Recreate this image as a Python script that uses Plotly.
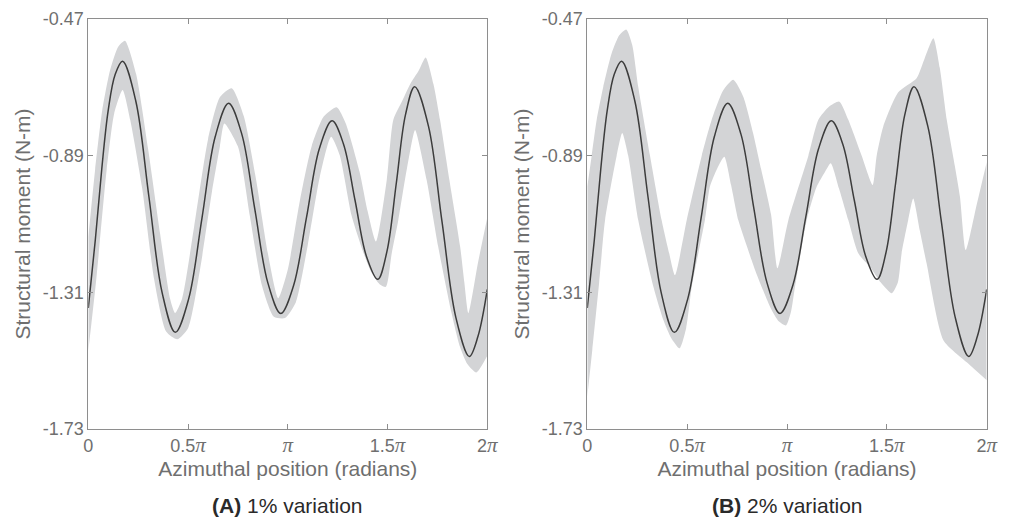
import numpy as np
import plotly.graph_objects as go
from plotly.subplots import make_subplots

# azimuthal position in units of pi, structural moment in N-m
mean_x = [0, 0.035, 0.067, 0.10, 0.135, 0.172, 0.238, 0.304, 0.370, 0.436, 0.503, 0.570,
          0.636, 0.703, 0.769, 0.834, 0.900, 0.965, 1.029, 1.094, 1.158, 1.222, 1.279,
          1.337, 1.394, 1.451, 1.497, 1.544, 1.590, 1.636, 1.705, 1.773, 1.842, 1.910,
          1.953, 2.0]
mean_y = [-1.358, -1.15, -0.934, -0.75, -0.64, -0.600, -0.722, -1.017, -1.311, -1.433,
          -1.330, -1.081, -0.832, -0.729, -0.823, -1.052, -1.281, -1.375, -1.289, -1.079,
          -0.869, -0.783, -0.854, -1.027, -1.199, -1.270, -1.184, -0.974, -0.764, -0.678,
          -0.799, -1.093, -1.386, -1.507, -1.446, -1.301]

# (A) 1% variation band
upper_a_x = [0, 0.034, 0.07, 0.11, 0.15, 0.184, 0.24, 0.30, 0.36, 0.41, 0.435, 0.47, 0.53,
             0.60, 0.66, 0.719, 0.78, 0.84, 0.90, 0.952, 1.00, 1.06, 1.12, 1.18, 1.245, 1.29,
             1.36, 1.40, 1.442, 1.496, 1.529, 1.575, 1.615, 1.655, 1.691, 1.73, 1.763, 1.81,
             1.864, 1.885, 1.905, 1.953, 2.0]
upper_a_y = [-1.14, -0.934, -0.75, -0.625, -0.555, -0.537, -0.64, -0.87, -1.13, -1.33,
             -1.374, -1.33, -1.11, -0.84, -0.71, -0.683, -0.77, -0.96, -1.19, -1.328, -1.24,
             -1.03, -0.86, -0.77, -0.741, -0.79, -0.94, -1.06, -1.154, -0.965, -0.78, -0.72,
             -0.668, -0.63, -0.588, -0.67, -0.78, -0.965, -1.17, -1.28, -1.374, -1.22, -1.08]
lower_a_x = [0, 0.04, 0.092, 0.13, 0.172, 0.21, 0.27, 0.33, 0.39, 0.446, 0.50, 0.56, 0.62,
             0.66, 0.682, 0.75, 0.81, 0.87, 0.93, 0.986, 1.04, 1.10, 1.16, 1.217, 1.26, 1.32,
             1.38, 1.42, 1.46, 1.492, 1.521, 1.554, 1.587, 1.615, 1.638, 1.696, 1.754, 1.821,
             1.863, 1.90, 1.945, 2.0]
lower_a_y = [-1.49, -1.27, -0.934, -0.76, -0.688, -0.78, -0.99, -1.27, -1.43, -1.454,
             -1.42, -1.24, -1.00, -0.86, -0.791, -0.862, -1.076, -1.288, -1.385, -1.389,
             -1.341, -1.165, -0.956, -0.832, -0.888, -1.075, -1.19, -1.25, -1.285, -1.293,
             -1.19, -1.088, -0.965, -0.87, -0.811, -0.965, -1.17, -1.374, -1.477, -1.53,
             -1.556, -1.505]

# (B) 2% variation band
upper_b_x = [0, 0.022, 0.047, 0.080, 0.122, 0.16, 0.195, 0.225, 0.255, 0.314, 0.372, 0.41,
             0.439, 0.498, 0.573, 0.623, 0.68, 0.731, 0.781, 0.83, 0.87, 0.92, 0.952, 1.007,
             1.107, 1.157, 1.21, 1.262, 1.307, 1.374, 1.429, 1.449, 1.482, 1.557, 1.649,
             1.69, 1.733, 1.765, 1.80, 1.84, 1.866, 1.895, 1.95, 2.0]
upper_b_y = [-0.985, -0.89, -0.78, -0.678, -0.575, -0.52, -0.502, -0.55, -0.678, -0.89,
             -1.088, -1.19, -1.257, -1.088, -0.89, -0.78, -0.69, -0.657, -0.709, -0.82, -0.93,
             -1.07, -1.236, -1.088, -0.89, -0.78, -0.74, -0.724, -0.78, -0.89, -0.98, -0.89,
             -0.80, -0.695, -0.652, -0.59, -0.529, -0.62, -0.78, -0.92, -1.016, -1.18, -1.04,
             -0.91]
lower_b_x = [0, 0.025, 0.059, 0.089, 0.147, 0.175, 0.205, 0.255, 0.331, 0.381, 0.42, 0.462,
             0.495, 0.523, 0.556, 0.589, 0.614, 0.65, 0.686, 0.72, 0.756, 0.80, 0.840, 0.915,
             0.96, 0.995, 1.02, 1.040, 1.099, 1.149, 1.19, 1.219, 1.26, 1.307, 1.357, 1.42,
             1.47, 1.525, 1.555, 1.574, 1.607, 1.632, 1.665, 1.699, 1.783, 1.90, 2.0]
lower_b_y = [-1.63, -1.487, -1.282, -1.088, -0.89, -0.82, -0.89, -1.088, -1.293, -1.395,
             -1.45, -1.482, -1.42, -1.293, -1.19, -1.088, -0.985, -0.93, -0.893, -0.98,
             -1.088, -1.17, -1.241, -1.354, -1.40, -1.412, -1.37, -1.293, -1.088, -0.985,
             -0.94, -0.913, -0.99, -1.088, -1.19, -1.235, -1.28, -1.313, -1.28, -1.19, -1.088,
             -1.022, -1.12, -1.221, -1.457, -1.525, -1.58]

y_ticks = [-1.73, -1.31, -0.89, -0.47]
x_ticks = [0, 0.5, 1, 1.5, 2]
pi_sym = '<span style="font-family:Liberation Serif;font-style:italic;font-size:21px">π</span>'
x_ticktext = ["0", "0.5" + pi_sym, pi_sym, "1.5" + pi_sym, "2" + pi_sym]
captions = ["<b>(A)</b> 1% variation", "<b>(B)</b> 2% variation"]

band_color = "#d3d4d6"
line_color = "#3c3c3c"
axis_color = "#8e8e8e"
text_color = "#6f6f6f"
font_family = "Liberation Sans, Arial, sans-serif"

fig = make_subplots(rows=1, cols=2)

panels = [
    (upper_a_x, upper_a_y, lower_a_x, lower_a_y),
    (upper_b_x, upper_b_y, lower_b_x, lower_b_y),
]
for i, (ux, uy, lx, ly) in enumerate(panels, start=1):
    fig.add_trace(go.Scatter(x=np.array(lx) * np.pi, y=ly, mode="lines",
                             line=dict(width=0, shape="spline", smoothing=0.6),
                             hoverinfo="skip", showlegend=False), row=1, col=i)
    fig.add_trace(go.Scatter(x=np.array(ux) * np.pi, y=uy, mode="lines",
                             line=dict(width=0, shape="spline", smoothing=0.6),
                             fill="tonexty", fillcolor=band_color,
                             hoverinfo="skip", showlegend=False), row=1, col=i)
    fig.add_trace(go.Scatter(x=np.array(mean_x) * np.pi, y=mean_y, mode="lines",
                             line=dict(color=line_color, width=1.5, shape="spline"),
                             showlegend=False), row=1, col=i)

# the page adds an 8 px body margin, so the figure is placed 8 px in from the corner
PAD = 8
W, H = 1010 - PAD, 523 - PAD
x_domains = [[(88.3 - PAD) / W, (487.3 - PAD) / W], [(587.3 - PAD) / W, (986.7 - PAD) / W]]
y_domain = [1 - (429 - PAD) / H, 1 - (19 - PAD) / H]

axis_common = dict(showline=True, linecolor=axis_color, linewidth=1, mirror="ticks",
                   ticks="inside", ticklen=5, tickcolor=axis_color, showgrid=False,
                   zeroline=False, automargin=False,
                   tickfont=dict(size=18, color=text_color))
for i in (1, 2):
    fig.update_xaxes(range=[0, 2 * np.pi], tickvals=np.array(x_ticks) * np.pi,
                     ticktext=x_ticktext, domain=x_domains[i - 1],
                     title=dict(text="Azimuthal position (radians)",
                                font=dict(size=21, color=text_color), standoff=2),
                     row=1, col=i, **axis_common)
    fig.update_yaxes(range=[-1.73, -0.47], tickvals=y_ticks,
                     ticktext=[f"{v:.2f}" for v in y_ticks], domain=y_domain,
                     title=dict(text="Structural moment (N-m)",
                                font=dict(size=21, color=text_color), standoff=6),
                     row=1, col=i, **axis_common)
    fig.add_annotation(text=captions[i - 1], xref="paper", yref="paper",
                       x=sum(x_domains[i - 1]) / 2, y=1 - (505 - PAD) / H, showarrow=False,
                       font=dict(size=21, color="#2a2a2a"), xanchor="center", yanchor="middle")

fig.update_layout(width=W, height=H, margin=dict(l=0, r=0, t=0, b=0),
                  paper_bgcolor="white", plot_bgcolor="white",
                  font=dict(family=font_family, color=text_color))

fig.write_html("out.html")
